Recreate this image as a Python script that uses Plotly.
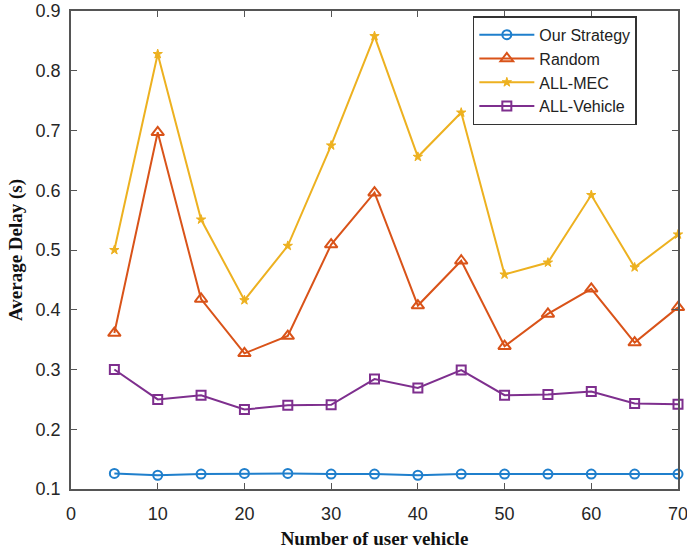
import plotly.graph_objects as go

x_vals = [5, 10, 15, 20, 25, 30, 35, 40, 45, 50, 55, 60, 65, 70]
our_strategy = [0.126, 0.123, 0.125, 0.126, 0.126, 0.125, 0.125, 0.123, 0.125, 0.125, 0.125, 0.125, 0.125, 0.125]
random_s = [0.361, 0.697, 0.418, 0.327, 0.356, 0.509, 0.596, 0.407, 0.482, 0.339, 0.393, 0.435, 0.345, 0.404]
all_mec = [0.500, 0.828, 0.551, 0.416, 0.507, 0.675, 0.858, 0.656, 0.730, 0.459, 0.479, 0.592, 0.471, 0.526]
all_vehicle = [0.300, 0.250, 0.257, 0.233, 0.240, 0.241, 0.284, 0.269, 0.299, 0.257, 0.258, 0.263, 0.243, 0.242]

x_ticks = [0, 10, 20, 30, 40, 50, 60, 70]
y_ticks = [0.1, 0.2, 0.3, 0.4, 0.5, 0.6, 0.7, 0.8, 0.9]

fig = go.Figure()
fig.add_trace(go.Scatter(x=x_vals, y=our_strategy, name="Our Strategy", mode="lines+markers", cliponaxis=False,
                         line=dict(color="#1f7fcc", width=2),
                         marker=dict(symbol="circle-open", size=9, line=dict(width=2, color="#1f7fcc"))))
fig.add_trace(go.Scatter(x=x_vals, y=random_s, name="Random", mode="lines+markers", cliponaxis=False,
                         line=dict(color="#D95319", width=2),
                         marker=dict(symbol="triangle-up-open", size=11, line=dict(width=2, color="#D95319"))))
fig.add_trace(go.Scatter(x=x_vals, y=all_mec, name="ALL-MEC", mode="lines+markers", cliponaxis=False,
                         line=dict(color="#EDB120", width=2),
                         marker=dict(symbol="star", size=7, color="#EDB120", line=dict(width=1, color="#EDB120"))))
fig.add_trace(go.Scatter(x=x_vals, y=all_vehicle, name="ALL-Vehicle", mode="lines+markers", cliponaxis=False,
                         line=dict(color="#7E2F8E", width=2),
                         marker=dict(symbol="square-open", size=9, line=dict(width=2, color="#7E2F8E"))))

axis_common = dict(showgrid=False, zeroline=False, showline=True, linecolor="#555555", linewidth=1.5,
                   mirror="ticks", ticks="inside", ticklen=6, tickcolor="#555555", automargin=False,
                   ticklabeloverflow="allow",
                   tickfont=dict(family="Liberation Sans, Arial, sans-serif", size=18, color="#262626"))

fig.update_layout(
    width=687, height=557,
    margin=dict(l=71, r=9, t=11, b=68),
    paper_bgcolor="white", plot_bgcolor="white",
    xaxis=dict(range=[0, 70], tickvals=x_ticks, ticklabelstandoff=8,
               title=dict(text="<b>Number of user vehicle</b>",
                          font=dict(family="Liberation Serif, Times New Roman, serif", size=19, color="#111111"),
                          standoff=8),
               **axis_common),
    yaxis=dict(range=[0.1, 0.9], tickvals=y_ticks, tickformat=".1f", ticklabelstandoff=5,
               title=dict(text="<b>Average Delay (s)</b>",
                          font=dict(family="Liberation Serif, Times New Roman, serif", size=19, color="#111111"),
                          standoff=8),
               **axis_common),
    legend=dict(x=0.662, y=0.989, xanchor="left", yanchor="top",
                bordercolor="#333333", borderwidth=1.5, bgcolor="white",
                font=dict(family="Liberation Sans, Arial, sans-serif", size=16, color="#222222"),
                itemwidth=55, tracegroupgap=0),
    showlegend=True,
)

fig.write_html("out.html", config={"displayModeBar": False},
               post_script="document.body.style.margin='0';")
